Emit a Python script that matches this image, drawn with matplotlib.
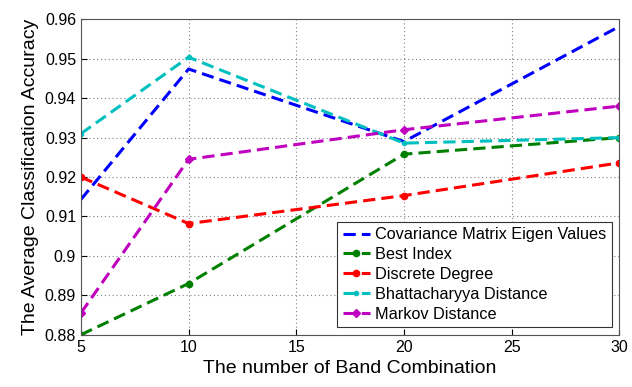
import matplotlib
matplotlib.use("Agg")
import matplotlib.pyplot as plt

plt.rcParams['font.family'] = ['Liberation Sans', 'DejaVu Sans']

# band combination counts and accuracies per selection method
bands = [5, 10, 20, 30]
cov_eigen = [0.9143, 0.9474, 0.9290, 0.9582]
best_index = [0.8800, 0.8930, 0.9258, 0.9300]
discrete_degree = [0.9200, 0.9082, 0.9153, 0.9236]
bhattacharyya = [0.9310, 0.9504, 0.9286, 0.9300]
markov = [0.8855, 0.9245, 0.9320, 0.9380]

fig, ax = plt.subplots(figsize=(6.32, 3.87), dpi=100)

lw = 2.2
dash = (0, (4, 2))
ax.plot(bands, cov_eigen, linestyle=dash, color='#0000ff', lw=lw, label='Covariance Matrix Eigen Values')
ax.plot(bands, best_index, linestyle=dash, marker='o', color='#008000', lw=lw, ms=4.5, label='Best Index')
ax.plot(bands, discrete_degree, linestyle=dash, marker='o', color='#ff0000', lw=lw, ms=4.5, label='Discrete Degree')
ax.plot(bands, bhattacharyya, linestyle=dash, marker='.', color='#00bfbf', lw=lw, ms=6, label='Bhattacharyya Distance')
ax.plot(bands, markov, linestyle=dash, marker='D', color='#bf00bf', lw=lw, ms=4.5, label='Markov Distance')

ax.set_xlim(5, 30)
ax.set_ylim(0.88, 0.96)
ax.set_xticks([5, 10, 15, 20, 25, 30])
ax.set_yticks([0.88, 0.89, 0.9, 0.91, 0.92, 0.93, 0.94, 0.95, 0.96])
ax.set_yticklabels(['0.88', '0.89', '0.9', '0.91', '0.92', '0.93', '0.94', '0.95', '0.96'])
ax.tick_params(labelsize=11.5, direction='in', length=4)
ax.grid(True, linestyle=(0, (1, 2.5)), color='#808080', lw=0.8)
for s in ax.spines.values():
    s.set_color('#555555')

ax.set_xlabel('The number of Band Combination', fontsize=14)
ax.set_ylabel('The Average Classification Accuracy', fontsize=14)

leg = ax.legend(loc='lower right', fontsize=11.7, fancybox=False, framealpha=1,
                edgecolor='#333333', handlelength=1.7, handletextpad=0.3,
                borderaxespad=0.45, labelspacing=0.3, borderpad=0.35)
leg.get_frame().set_linewidth(0.8)

fig.subplots_adjust(left=0.128, right=0.98, top=0.95, bottom=0.135)
fig.savefig('out.png', dpi=100)
